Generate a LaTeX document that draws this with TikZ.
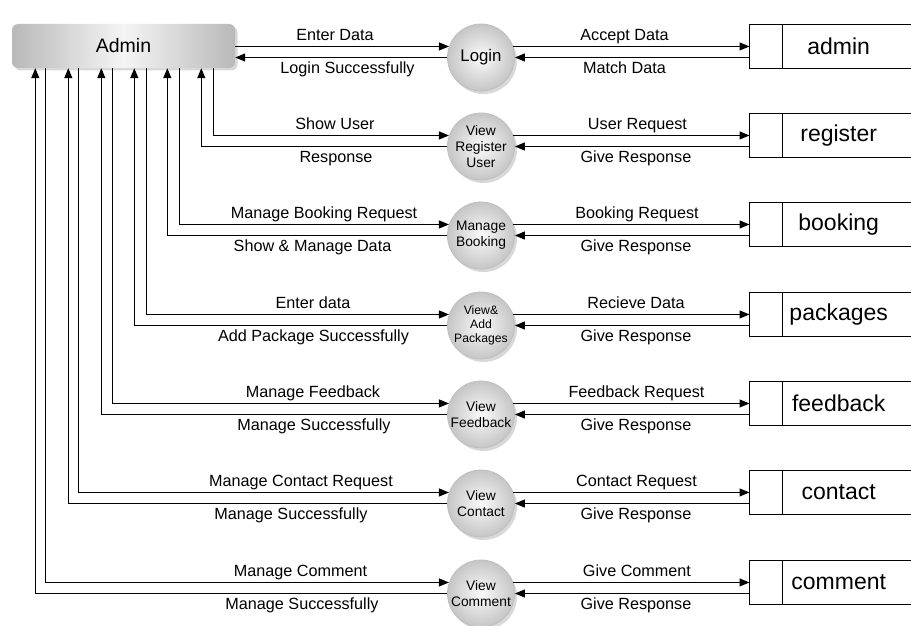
\documentclass[tikz,border=0pt]{standalone}
\usepackage{fontspec}
\setmainfont{Liberation Sans}
\usetikzlibrary{arrows.meta,shadows,calc}
\begin{document}
\begin{tikzpicture}[x=1pt,y=-1pt,
  arr/.style={line width=1.1pt, -{Triangle[length=10pt,width=8pt]}},
  ln/.style={line width=1.1pt},
  lbl/.style={font=\fontsize{16.2}{18}\selectfont, anchor=base, inner sep=0pt},
  proc/.style={circle, minimum size=67pt, inner sep=0pt, align=center,
    inner color=gray!4, outer color=gray!45, draw=gray!50, line width=0.8pt,
    drop shadow={shadow xshift=2.5pt, shadow yshift=-3pt, opacity=0.3},
    font=\fontsize{13.8}{16}\selectfont},
  store/.style={minimum width=170pt, minimum height=44pt, inner sep=0pt, anchor=west},
  storelbl/.style={font=\fontsize{23}{26}\selectfont, xshift=4pt},
]
\useasboundingbox (0,0) rectangle (911,626);
\fill[white] (0,0) rectangle (911,626);

% external entity
\node[rounded corners=6pt, minimum width=223pt, minimum height=44pt, inner sep=0pt,
  left color=gray!55, right color=gray!55, middle color=gray!8,
  drop shadow={shadow xshift=2.5pt, shadow yshift=-2.5pt, opacity=0.3},
  font=\fontsize{19.5}{22}\selectfont] (admin) at (123.5,46) {Admin};

% processes
\node[proc, font=\fontsize{16.8}{19}\selectfont] (c1) at (481,57.5) {Login};
\node[proc] (c2) at (481,146.5) {View\\Register\\User};
\node[proc] (c3) at (481,235.5) {Manage\\Booking};
\node[proc, font=\fontsize{12.2}{14}\selectfont] (c4) at (481,325.5) {View\&\\Add\\Packages};
\node[proc] (c5) at (481,414.5) {View\\Feedback};
\node[proc] (c6) at (481,503.5) {View\\Contact};
\node[proc] (c7) at (481,593.5) {View\\Comment};

% data stores
\node[store, label={[storelbl]center:admin}] (s1) at (749.5,46.6) {};
\node[store, label={[storelbl]center:register}] (s2) at (749.5,135.6) {};
\node[store, label={[storelbl]center:booking}] (s3) at (749.5,224.6) {};
\node[store, label={[storelbl]center:packages}] (s4) at (749.5,314.6) {};
\node[store, label={[storelbl]center:feedback}] (s5) at (749.5,403.6) {};
\node[store, label={[storelbl]center:contact}] (s6) at (749.5,492.6) {};
\node[store, label={[storelbl]center:comment}] (s7) at (749.5,582.6) {};
\foreach \i in {1,...,7}{
  \draw[ln] (s\i.north east) -- (s\i.north west) -- (s\i.south west) -- (s\i.south east);
  \draw[ln] ($(s\i.north west)+(33,0)$) -- ($(s\i.south west)+(33,0)$);
  \draw[arr] (c\i.19) -- (c\i.19 -| s\i.west);
  \draw[arr] (c\i.east -| s\i.west) -- (c\i.east);
}

% admin <-> processes
\draw[arr] (c1.161 -| admin.east) -- (c1.161);
\draw[arr] (c1.west) -- (c1.west -| admin.east);
\draw[arr] ($(admin.south west)+(201.5,0)$) |- (c2.161);
\draw[arr] (c2.west) -| ($(admin.south west)+(189.5,0)$);
\draw[arr] ($(admin.south west)+(167.5,0)$) |- (c3.161);
\draw[arr] (c3.west) -| ($(admin.south west)+(155.5,0)$);
\draw[arr] ($(admin.south west)+(134.5,0)$) |- (c4.161);
\draw[arr] (c4.west) -| ($(admin.south west)+(122.5,0)$);
\draw[arr] ($(admin.south west)+(100.5,0)$) |- (c5.161);
\draw[arr] (c5.west) -| ($(admin.south west)+(89.5,0)$);
\draw[arr] ($(admin.south west)+(66.5,0)$) |- (c6.161);
\draw[arr] (c6.west) -| ($(admin.south west)+(56.5,0)$);
\draw[arr] ($(admin.south west)+(33.5,0)$) |- (c7.161);
\draw[arr] (c7.west) -| ($(admin.south west)+(23.5,0)$);

% left labels
\node[lbl] (la1) at (335,40.2) {Enter Data};
\node[lbl] (lb1) at (347.5,73.2) {Login Successfully};
\node[lbl] (la2) at (335,129.5) {Show User};
\node[lbl] (lb2) at (336,162.5) {Response};
\node[lbl] (la3) at (324,218.9) {Manage Booking Request};
\node[lbl] (lb3) at (312.5,251.9) {Show \& Manage Data};
\node[lbl] (la4) at (313,308.2) {Enter data};
\node[lbl] (lb4) at (313.5,341.2) {Add Package Successfully};
\node[lbl] (la5) at (313,397.5) {Manage Feedback};
\node[lbl] (lb5) at (314,430.5) {Manage Successfully};
\node[lbl] (la6) at (301,486.9) {Manage Contact Request};
\node[lbl] (lb6) at (291,519.9) {Manage Successfully};
\node[lbl] (la7) at (300.5,576.2) {Manage Comment};
\node[lbl] (lb7) at (302,609.2) {Manage Successfully};

% right labels
\node[lbl] (ra1) at (624.5,40.2) {Accept Data};
\node[lbl] (rb1) at (624.5,73.2) {Match Data};
\node[lbl] (ra2) at (637.5,129.5) {User Request};
\node[lbl] (rb2) at (636,162.5) {Give Response};
\node[lbl] (ra3) at (637,218.9) {Booking Request};
\node[lbl] (rb3) at (636,251.9) {Give Response};
\node[lbl] (ra4) at (636,308.2) {Recieve Data};
\node[lbl] (rb4) at (636,341.2) {Give Response};
\node[lbl] (ra5) at (636.5,397.5) {Feedback Request};
\node[lbl] (rb5) at (636,430.5) {Give Response};
\node[lbl] (ra6) at (636.5,486.9) {Contact Request};
\node[lbl] (rb6) at (636,519.9) {Give Response};
\node[lbl] (ra7) at (637,576.2) {Give Comment};
\node[lbl] (rb7) at (636,609.2) {Give Response};
\end{tikzpicture}
\end{document}
